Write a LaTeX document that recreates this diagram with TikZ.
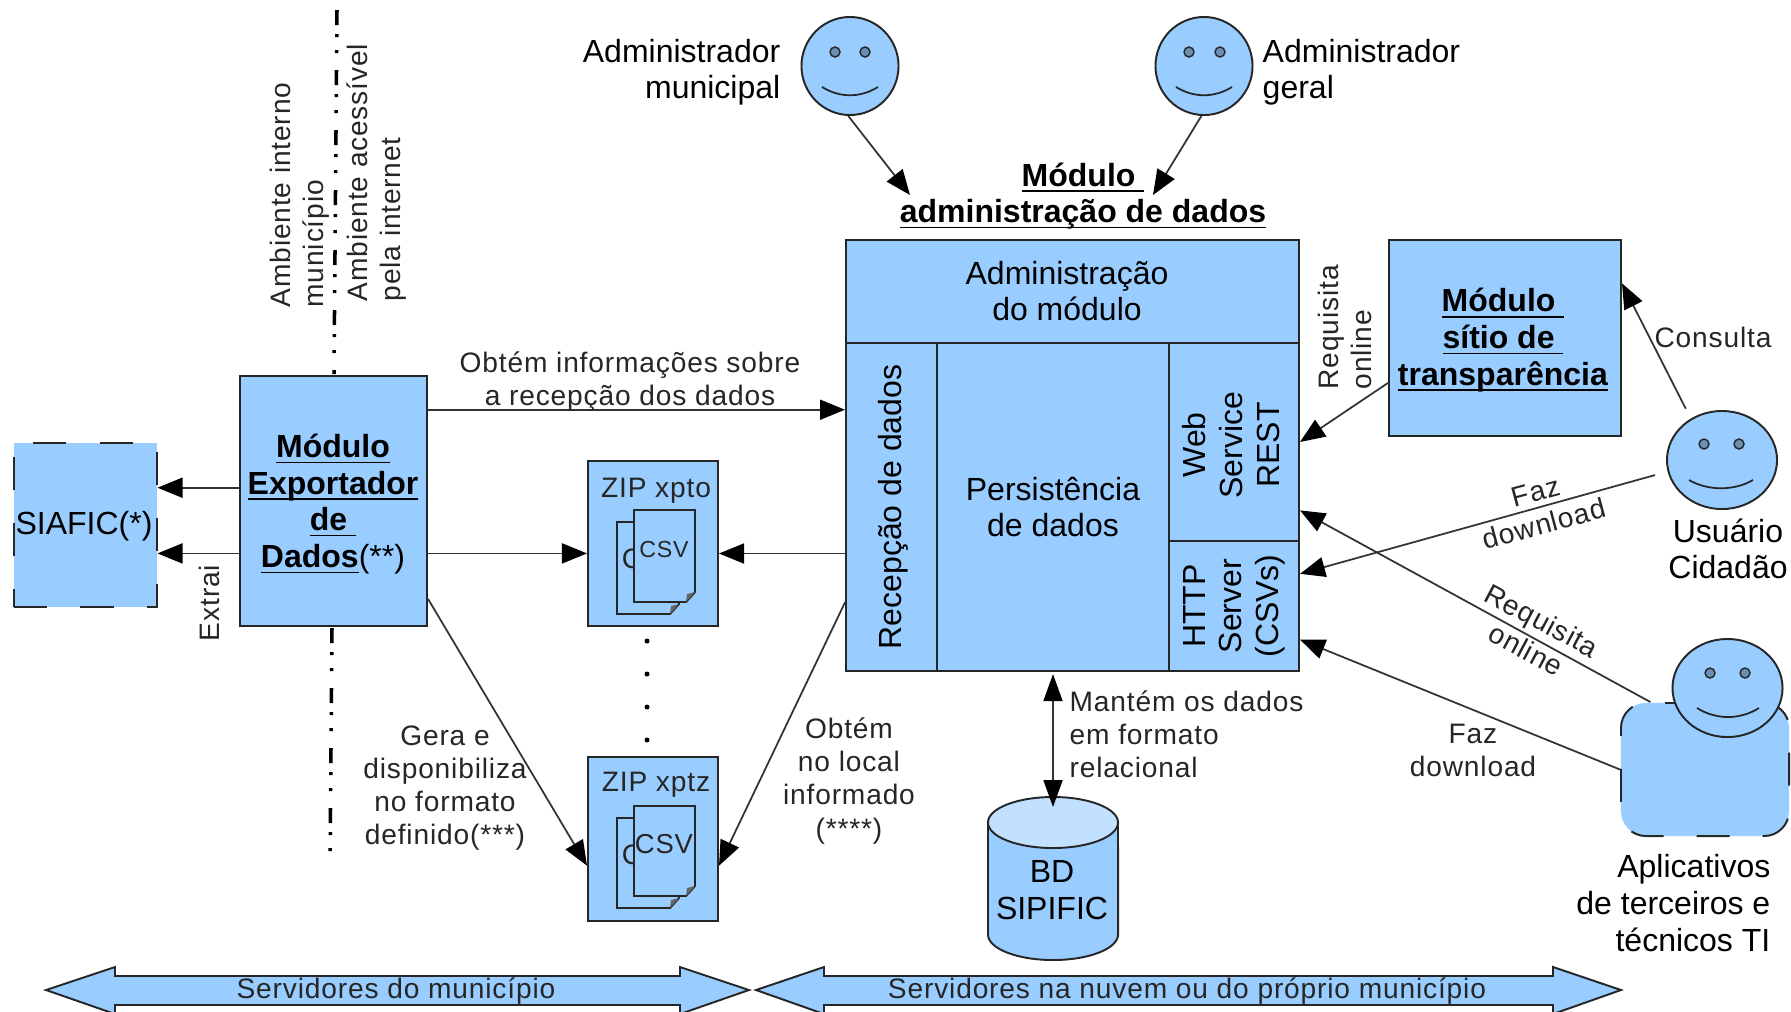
\documentclass[tikz,border=0pt]{standalone}
\usepackage{fontspec}
\setmainfont{Liberation Sans}
\newfontfamily\spacedfont[LetterSpace=3]{Liberation Sans}
\usetikzlibrary{arrows.meta,shapes.geometric}
\definecolor{boxblue}{HTML}{99CCFF}
\definecolor{toplight}{HTML}{C2E0FF}
\newcommand{\ulbf}[1]{\underline{\smash{\textbf{#1}}}}
\tikzset{
  bluebox/.style={draw=black!85,line width=.55pt,fill=boxblue,inner sep=0pt},
  dashbox/.style={bluebox,dash pattern=on .33cm off .33cm},
  facehead/.style={bluebox,ellipse,minimum width=1.1cm,minimum height=.98cm},
  faceline/.style={draw=black!85,line width=.5pt},
  eyedot/.style={draw=black!85,line width=.4pt,fill=boxblue!70!black},
  bigtext/.style={font=\fontsize{9.1}{10.4}\selectfont,align=center,inner sep=0pt},
  smalltext/.style={font=\spacedfont\fontsize{8}{9.4}\selectfont,align=center,inner sep=0pt,text=black!85},
  conn/.style={draw=black!80,line width=.5pt,-{Triangle[length=.25cm,width=.2cm,black]}},
  sidedash/.style={line width=1pt,dash pattern=on .15cm off .09cm on .03cm off .13cm on .03cm off .17cm}
}
\begin{document}
\begin{tikzpicture}[x=.01cm,y=-.01cm]
\useasboundingbox (0,0) rectangle (1791,1011);
\fill[white] (0,0) rectangle (1791,1011);
% linha interno / internet
\draw[sidedash] (337,10) -- (334,374);
\draw[sidedash] (332,628) -- (330,868);
\node[smalltext,rotate=90,anchor=west,align=left] (ambint) at (300,308) {Ambiente interno\\município};
\node[smalltext,rotate=90,anchor=west,align=left] (ambext) at (377,302) {Ambiente acessível\\pela internet};
% caixas
\node[dashbox,minimum width=1.42cm,minimum height=1.64cm] (siafic) at (85.5,525) {};
\node[bigtext] (siaficl) at (84,526) {SIAFIC(*)};
\node[bluebox,minimum width=1.87cm,minimum height=2.5cm] (expo) at (333.5,501) {};
\node[bigtext] (expol) at (333,516) {\ulbf{Módulo}\\\ulbf{Exportador}\\\ulbf{de\ }\\\ulbf{Dados}(**)};
\node[bluebox,minimum width=1.3cm,minimum height=1.65cm] (zipa) at (653,543.5) {};
\node[bluebox,minimum width=1.3cm,minimum height=1.64cm] (zipz) at (653,839) {};
\node[smalltext] (zipal) at (656,491) {ZIP xpto};
\node[smalltext] (zipzl) at (656,785) {ZIP xptz};
% folhas csv
\draw[bluebox] (617,522) -- (679,522) -- (679,604) -- (670,614) -- (617,614) -- cycle;
\fill[black!60] (670,614) -- (679,604) -- (671,606) -- cycle;
\node[smalltext] (csvab) at (632,559) {C};
\draw[bluebox] (634,510) -- (695,510) -- (695,592) -- (686,602) -- (634,602) -- cycle;
\fill[black!60] (686,602) -- (695,592) -- (687,594) -- cycle;
\node[smalltext,font=\spacedfont\fontsize{6.6}{8}\selectfont] (csva) at (664,549) {CSV};
\draw[bluebox] (617,818) -- (679,818) -- (679,898) -- (670,908) -- (617,908) -- cycle;
\fill[black!60] (670,908) -- (679,898) -- (671,900) -- cycle;
\node[smalltext] (csvzb) at (632,855) {C};
\draw[bluebox] (634,806) -- (695,806) -- (695,886) -- (686,896) -- (634,896) -- cycle;
\fill[black!60] (686,896) -- (695,886) -- (687,888) -- cycle;
\node[smalltext,font=\spacedfont\fontsize{7.8}{9}\selectfont] (csvz) at (664,844) {CSV};
\fill (647,641) circle [radius=.025cm];
\fill (647,674) circle [radius=.025cm];
\fill (647,707) circle [radius=.025cm];
\fill (647,740) circle [radius=.025cm];
% modulo de administracao
\node[bigtext] (titulo) at (1083,208) {\ulbf{Módulo\ }\\\ulbf{administração de dados}};
\node[bluebox,minimum width=4.53cm,minimum height=1.03cm] (admmod) at (1072.5,291.5) {};
\node[bigtext] (admmodl) at (1067,291) {Administração\\do módulo};
\node[bluebox,minimum width=.91cm,minimum height=3.28cm] (recep) at (891.5,507) {};
\node[bigtext,rotate=90] (recepl) at (893,507) {Recepção de dados};
\node[bluebox,bigtext,minimum width=2.32cm,minimum height=3.28cm] (pers) at (1053,507) {Persistência\\de dados};
\node[bluebox,minimum width=1.3cm,minimum height=1.98cm] (webs) at (1234,442) {};
\node[bigtext,rotate=90] (websl) at (1231,445) {Web\\Service\\REST};
\node[bluebox,minimum width=1.3cm,minimum height=1.3cm] (https) at (1234,606) {};
\node[bigtext,rotate=90] (httpsl) at (1234,606) {HTTP\\Server\\(CSVs)};
\node[bluebox,minimum width=2.32cm,minimum height=1.96cm] (site) at (1505,338) {};
\node[bigtext] (sitel) at (1503,352) {\ulbf{Módulo\ }\\\ulbf{sítio de\ }\\\ulbf{transparência}};
% banco
\draw[bluebox] (988,822) -- (988,934.5) arc [start angle=180,end angle=360,x radius=.65cm,y radius=.255cm] -- (1118,822) -- cycle;
\node[bluebox,ellipse,fill=toplight,minimum width=1.3cm,minimum height=.51cm] (bdtop) at (1053,822.5) {};
\node[bigtext] (bdl) at (1052,890) {BD\\SIPIFIC};
% rostos
\node[facehead,minimum width=.97cm] (admmun) at (850,66) {};
\draw[eyedot] (835,52) circle [radius=.05cm];
\draw[eyedot] (865,52) circle [radius=.05cm];
\draw[faceline] (822,87) .. controls (840,98) and (860,98) .. (878,87);
\node[bigtext,anchor=east,align=right] (admmunl) at (781,72) {Administrador\\municipal};
\node[facehead,minimum width=.97cm] (admger) at (1204,66) {};
\draw[eyedot] (1189,52) circle [radius=.05cm];
\draw[eyedot] (1220,52) circle [radius=.05cm];
\draw[faceline] (1176,87) .. controls (1194,98) and (1214,98) .. (1232,87);
\node[bigtext,anchor=west,align=left] (admgerl) at (1262,72) {Administrador\\geral};
\node[facehead] (cid) at (1722,460) {};
\draw[eyedot] (1704,444) circle [radius=.05cm];
\draw[eyedot] (1739,444) circle [radius=.05cm];
\draw[faceline] (1689,480) .. controls (1708,491) and (1734,491) .. (1753,480);
\node[bigtext] (cidl) at (1728,549) {Usuário\\Cidadão};
\node[dashbox,rounded corners=.25cm,minimum width=1.68cm,minimum height=1.33cm] (apl) at (1705,769.5) {};
\node[facehead] (aplhead) at (1727.5,688) {};
\draw[eyedot] (1710,673) circle [radius=.05cm];
\draw[eyedot] (1745,673) circle [radius=.05cm];
\draw[faceline] (1697,708) .. controls (1716,720) and (1740,720) .. (1759,708);
\node[bigtext,anchor=east,align=right] (apll) at (1771,903) {Aplicativos\\de terceiros e\\técnicos TI};
% setas
\coordinate (tipmun) at (910,195);
\coordinate (tipger) at (1153,195);
\draw[conn] (admmun.-92.4) -- (tipmun);
\draw[conn] (admger.-93.6) -- (tipger);
\draw[conn] (expo.172.7) -- (expo.172.7 -| siafic.east);
\draw[conn] (expo.209.1) -- (expo.209.1 -| siafic.east);
\draw[conn] (expo.-29.1) -- (expo.-29.1 -| zipa.west);
\draw[conn] (expo.44.5) -- (expo.44.5 -| recep.west);
\draw[conn] (recep.225.3) -- (recep.225.3 -| zipa.east);
\draw[conn] (expo.-46.9) -- (zipz.202.6);
\draw[conn] (recep.244.4) -- (zipz.-22.6);
\draw[conn] (site.201.2) -- (webs.east);
\draw[conn,shorten <=.11cm] (cid.127.8) -- (site.25.8);
\draw[conn,shorten <=.13cm] (cid.192.4) -- (https.26.2);
\draw[conn] (apl.129.2) -- (webs.-46.3);
\draw[conn] (apl.west) -- (https.-27.6);
\draw[draw=black!80,line width=.5pt,{Triangle[length=.27cm,width=.19cm,black]}-{Triangle[length=.27cm,width=.19cm,black]},shorten <=.02cm,shorten >=-.11cm] (pers.south) -- (bdtop.north);
% rotulos
\node[smalltext] (obtinfo) at (630,382) {Obtém informações sobre\\a recepção dos dados};
\node[smalltext,rotate=90] (extrai) at (209,603) {Extrai};
\node[smalltext] (gera) at (445,788) {Gera e\\disponibiliza\\no formato\\definido(***)};
\node[smalltext] (obtlocal) at (849,781) {Obtém\\no local\\informado\\(****)};
\node[smalltext,anchor=west,align=left] (mantem) at (1069,734) {Mantém os dados\\em formato\\relacional};
\node[smalltext,rotate=90,anchor=west,align=left] (reqa) at (1345,390) {Requisita\\online};
\node[smalltext] (consulta) at (1713,337) {Consulta};
\node[smalltext,rotate=15] (fazb) at (1540,508) {Faz\\download};
\node[smalltext,rotate=-28] (reqb) at (1534,635) {Requisita\\online};
\node[smalltext] (fazc) at (1473,750) {Faz\\download};
% faixas de baixo
\draw[bluebox] (46,990) -- (115,967) -- (115,976) -- (680,976) -- (680,967) -- (749,990) -- (680,1014) -- (680,1005) -- (115,1005) -- (115,1014) -- cycle;
\draw[bluebox] (756,990) -- (824,967) -- (824,976) -- (1553,976) -- (1553,967) -- (1621,990) -- (1553,1014) -- (1553,1005) -- (824,1005) -- (824,1014) -- cycle;
\node[smalltext] (srvmun) at (396,991) {Servidores do município};
\node[smalltext] (srvnuv) at (1187,991) {Servidores na nuvem ou do próprio município};
\end{tikzpicture}
\end{document}
